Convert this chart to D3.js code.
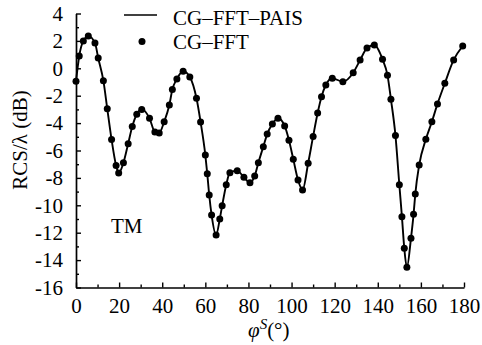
<!DOCTYPE html>
<html><head><meta charset="utf-8">
<script src="https://cdn.jsdelivr.net/npm/d3@7"></script>
<style>
body{margin:0;background:#fff}
svg text{font-family:"Liberation Serif","DejaVu Serif","Times New Roman",serif !important;fill:#000}
</style>
</head><body>
<svg id="chart" width="482" height="345" font-family="Liberation Serif"></svg>
<script>
// scattering angle (degrees) of each plotted sample
const phiDeg = [0,1.5,3.4,5.7,8.8,10.3,12.7,14.5,16.5,18.6,19.8,22.0,24.2,26.1,28.2,30.5,34.1,36.6,38.6,40.9,
  43.3,44.7,46.8,49.7,52.8,55.9,57.8,60.0,60.9,61.8,62.9,65.0,66.7,67.8,69.7,71.4,74.8,77.9,80.7,82.9,
  84.6,86.9,88.7,91.1,93.7,96.8,98.8,100.8,103.0,105.1,107.7,110.0,112.1,113.9,115.9,118.9,123.8,128.6,131.8,135.0,
  138.4,142.2,144.5,146.1,148.2,150.0,151.2,152.3,153.5,155.4,156.6,157.4,159.2,162.3,165.1,167.7,171.1,175.2,179.4];
// CG-FFT samples (dots), RCS/lambda in dB
const rcsCgFft = [-0.95,0.9,2.0,2.35,1.85,0.75,-0.9,-2.95,-5.2,-7.1,-7.65,-6.9,-5.5,-4.25,-3.35,-3.0,-3.65,-4.65,-4.72,-3.9,
  -2.68,-1.55,-0.78,-0.22,-0.63,-2.19,-3.92,-6.33,-7.7,-9.25,-10.7,-12.17,-11.0,-10.03,-8.5,-7.62,-7.47,-7.96,-8.35,-7.86,
  -6.89,-5.72,-4.8,-4.07,-3.65,-4.21,-5.25,-6.63,-8.15,-8.88,-6.93,-4.97,-3.26,-2.07,-1.22,-0.73,-0.98,-0.32,0.6,1.48,
  1.7,0.66,-0.5,-2.26,-4.9,-8.5,-10.83,-13.14,-14.53,-12.41,-10.66,-9.18,-7.06,-5.18,-3.9,-2.6,-1.1,0.61,1.63];
// CG-FFT-PAIS curve (coincides with CG-FFT at the plotted samples)
const rcsCgFftPais = rcsCgFft.slice();

const seriesNames = ["CG\u2013FFT\u2013PAIS","CG\u2013FFT"];
const xTicks = [0,20,40,60,80,100,120,140,160,180];
const xMinorTicks = [10,30,50,70,90,110,130,150,170];
const yTicks = [4,2,0,-2,-4,-6,-8,-10,-12,-14,-16];
const yMinorTicks = [3,1,-1,-3,-5,-7,-9,-11,-13,-15];
const annotation = "TM";

const SERIF = "Liberation Serif";
const svg = d3.select("#chart");
const x = d3.scaleLinear().domain([0,180]).range([76,464]);
const y = d3.scaleLinear().domain([-16,4]).range([287.5,13.5]);
const FS = 21;

// axes
svg.append("g").attr("transform","translate(0,287.5)")
  .call(d3.axisBottom(x).tickValues(xTicks).tickSizeInner(-5).tickSizeOuter(0).tickPadding(11).tickFormat(d=>String(d)));
svg.append("g").attr("transform","translate(0,287.5)")
  .call(d3.axisBottom(x).tickValues(xMinorTicks).tickSizeInner(-3).tickSizeOuter(0).tickFormat(""))
  .select(".domain").remove();
svg.append("g").attr("transform","translate(76,0)")
  .call(d3.axisLeft(y).tickValues(yTicks).tickSizeInner(-5).tickSizeOuter(0).tickPadding(13).tickFormat(d=>String(d)));
svg.append("g").attr("transform","translate(76,0)")
  .call(d3.axisLeft(y).tickValues(yMinorTicks).tickSizeInner(-3).tickSizeOuter(0).tickFormat(""))
  .select(".domain").remove();
svg.selectAll("g").attr("font-family",SERIF);
svg.selectAll(".domain").attr("stroke","#000").attr("stroke-width",1.7);
svg.selectAll(".tick line").attr("stroke","#000").attr("stroke-width",1.4);
svg.selectAll(".tick text").attr("font-size",FS).attr("font-family",SERIF).attr("fill","#000");

// line
const pts = phiDeg.map((p,i)=>[p,rcsCgFftPais[i]]);
svg.append("path").datum(pts)
  .attr("fill","none").attr("stroke","#000").attr("stroke-width",1.9)
  .attr("d", d3.line().x(d=>x(d[0])).y(d=>y(d[1])).curve(d3.curveMonotoneX));

// dots
svg.append("g").selectAll("circle").data(phiDeg.map((p,i)=>[p,rcsCgFft[i]])).join("circle")
  .attr("cx",d=>x(d[0])).attr("cy",d=>y(d[1])).attr("r",3.5).attr("fill","#000");

// legend
svg.append("line").attr("x1",124).attr("x2",157).attr("y1",15).attr("y2",15)
  .attr("stroke","#000").attr("stroke-width",1.7);
svg.append("text").attr("x",173).attr("y",25).attr("font-size",FS).attr("font-family",SERIF).text(seriesNames[0]);
svg.append("circle").attr("cx",142).attr("cy",41.5).attr("r",3.5).attr("fill","#000");
svg.append("text").attr("x",173).attr("y",49).attr("font-size",FS).attr("font-family",SERIF).text(seriesNames[1]);

// annotation
svg.append("text").attr("x",111).attr("y",233).attr("font-size",FS).attr("font-family",SERIF).text(annotation);

// axis titles
const xt = svg.append("text").attr("x",248).attr("y",337).attr("font-size",FS).attr("font-family",SERIF);
xt.append("tspan").attr("font-style","italic").text("\u03C6");
xt.append("tspan").attr("font-style","italic").attr("font-size",15).attr("dy",-8).text("S");
xt.append("tspan").attr("dy",8).text("(\u00B0)");

svg.append("text").attr("transform","translate(27,140) rotate(-90)")
  .attr("text-anchor","middle").attr("font-size",FS).attr("font-family",SERIF).text("RCS/\u03BB (dB)");
</script>
</body></html>
